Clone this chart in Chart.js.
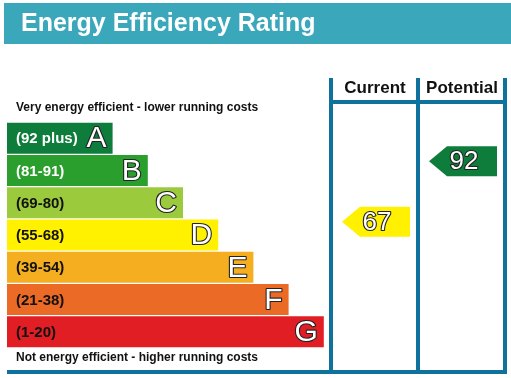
<!DOCTYPE html>
<html>
<head>
<meta charset="utf-8">
<script src="https://cdn.jsdelivr.net/npm/chart.js@4"></script>
<style>
  html, body { margin: 0; padding: 0; background: #ffffff; }
  canvas { display: block; }
</style>
</head>
<body>
<canvas id="c" width="511" height="378"></canvas>
<script>
// ---- data ----
const titleText = 'Energy Efficiency Rating';
const topNote = 'Very energy efficient - lower running costs';
const bottomNote = 'Not energy efficient - higher running costs';
const bandLetters = ['A', 'B', 'C', 'D', 'E', 'F', 'G'];
const bandRanges = ['(92 plus)', '(81-91)', '(69-80)', '(55-68)', '(39-54)', '(21-38)', '(1-20)'];
const bandMins = [92, 81, 69, 55, 39, 21, 1];
const bandLengths = [3, 4, 5, 6, 7, 8, 9];
const ratingColumns = ['Current', 'Potential'];
const ratingValues = [67, 92];

// ---- styles ----
const bandColors = ['#0e7d3b', '#2b9f2d', '#9bcb3d', '#fff100', '#f4ae1f', '#eb6a26', '#e21e25'];
const bandTextColors = ['#ffffff', '#ffffff', '#111111', '#111111', '#111111', '#111111', '#111111'];
const FONT = "'Liberation Sans', Arial, sans-serif";
const LINE = '#0f729d';
const HEADER = '#3ba7ba';

function bandIndexFor(v) {
  for (let i = 0; i < bandMins.length; i++) if (v >= bandMins[i]) return i;
  return bandMins.length - 1;
}

const epcPlugin = {
  id: 'epc',
  beforeDraw(chart) {
    const ctx = chart.ctx;
    ctx.save();
    // header band
    ctx.fillStyle = HEADER;
    ctx.fillRect(4, 3, 507, 41);
    ctx.fillStyle = '#ffffff';
    ctx.font = 'bold 25px ' + FONT;
    ctx.textAlign = 'left';
    ctx.textBaseline = 'middle';
    ctx.fillText(titleText, 21, 24);
    ctx.restore();
  },
  afterDatasetsDraw(chart) {
    const ctx = chart.ctx;
    const meta = chart.getDatasetMeta(0);
    const y2 = chart.scales.y2;
    ctx.save();
    // band labels and letters
    meta.data.forEach((el, i) => {
      ctx.textBaseline = 'middle';
      ctx.textAlign = 'left';
      ctx.font = 'bold 15px ' + FONT;
      ctx.fillStyle = bandTextColors[i];
      ctx.fillText(bandRanges[i], 16, el.y + 1);
      ctx.textAlign = 'right';
      ctx.font = '30px ' + FONT;
      ctx.lineJoin = 'round';
      ctx.lineWidth = 2.2;
      ctx.strokeStyle = '#222222';
      ctx.strokeText(bandLetters[i], el.x - 6, el.y + 1);
      ctx.fillStyle = '#ffffff';
      ctx.fillText(bandLetters[i], el.x - 6, el.y + 1);
    });
    // notes
    ctx.fillStyle = '#111111';
    ctx.textAlign = 'left';
    ctx.font = 'bold 12px ' + FONT;
    ctx.fillText(topNote, 16, 108);
    ctx.fillText(bottomNote, 16, 358);

    // columns
    const cols = [[332, 416], [419, 503]];
    ctx.fillStyle = LINE;
    ctx.fillRect(329, 78, 4, 296);
    ctx.fillRect(416, 78, 4, 296);
    ctx.fillRect(503, 78, 4, 296);
    ctx.fillRect(329, 100, 178, 4);
    ctx.fillRect(7, 370, 500, 4);
    ctx.fillStyle = '#111111';
    ctx.font = 'bold 17px ' + FONT;
    ctx.textAlign = 'center';
    ratingColumns.forEach((t, i) => {
      ctx.fillText(t, (cols[i][0] + cols[i][1]) / 2 + 1, 88);
    });

    // arrows
    ratingValues.forEach((v, i) => {
      const cy = y2.getPixelForValue(v);
      const left = cols[i][0] + 10;
      const right = cols[i][1] - 6;
      const h = 30;
      const tip = 18;
      ctx.fillStyle = bandColors[bandIndexFor(v)];
      ctx.beginPath();
      ctx.moveTo(left, cy);
      ctx.lineTo(left + tip, cy - h / 2);
      ctx.lineTo(right, cy - h / 2);
      ctx.lineTo(right, cy + h / 2);
      ctx.lineTo(left + tip, cy + h / 2);
      ctx.closePath();
      ctx.fill();
      ctx.font = '26px ' + FONT;
      ctx.textAlign = 'center';
      ctx.textBaseline = 'middle';
      ctx.lineWidth = 2.2;
      ctx.strokeStyle = '#222222';
      const tx = (left + right) / 2 + 1;
      ctx.strokeText(String(v), tx, cy + 1);
      ctx.fillStyle = '#ffffff';
      ctx.fillText(String(v), tx, cy + 1);
    });
    ctx.restore();
  }
};

new Chart(document.getElementById('c'), {
  type: 'bar',
  data: {
    labels: bandLetters,
    datasets: [{
      data: bandLengths,
      backgroundColor: bandColors,
      borderWidth: 0,
      barPercentage: 0.96,
      categoryPercentage: 1
    }]
  },
  options: {
    indexAxis: 'y',
    responsive: false,
    devicePixelRatio: 1,
    animation: false,
    layout: { padding: { left: 7, right: 4, top: 122, bottom: 30 } },
    plugins: { legend: { display: false }, tooltip: { enabled: false }, title: { display: false } },
    scales: {
      x: { type: 'linear', min: 0, max: 500 / 35.2, display: false },
      y: { type: 'category', display: false },
      y2: { type: 'linear', axis: 'y', position: 'left', min: 20, max: 103, display: false }
    }
  },
  plugins: [epcPlugin]
});
</script>
</body>
</html>
